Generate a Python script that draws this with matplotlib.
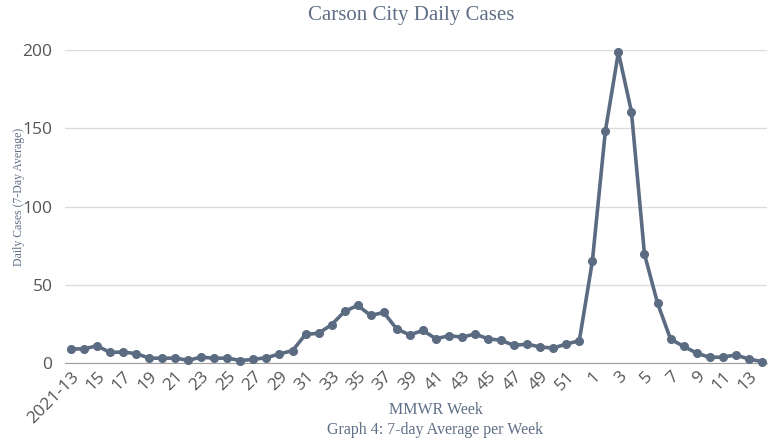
import matplotlib
matplotlib.use("Agg")
import matplotlib.pyplot as plt

weeks_2021 = list(range(13, 53))
weeks_2022 = list(range(1, 15))
week_labels = ["2021-13"] + [str(w) for w in weeks_2021[1:]] + [str(w) for w in weeks_2022]

cases = [9.0, 9.0, 11.0, 6.8, 7.0, 6.0, 3.2, 3.0, 3.2, 1.7,
         3.8, 3.0, 3.2, 1.6, 2.3, 3.4, 5.8, 7.9, 18.3, 19.0,
         24.5, 33.0, 36.8, 30.4, 32.3, 21.7, 18.0, 20.8, 15.5, 17.4,
         16.6, 18.5, 15.5, 14.5, 11.2, 12.1, 10.2, 9.6, 12.1, 14.2,
         64.9, 148.3, 198.5, 160.6, 69.6, 38.3, 15.3, 10.6, 6.4, 3.6,
         3.8, 5.1, 2.6, 0.9]

y_ticks = [0, 50, 100, 150, 200]

line_color = "#5b6b82"
text_color = "#5f6f86"

fig = plt.figure(figsize=(7.75, 4.38), dpi=100)
ax = fig.add_axes([0.0839, 0.1712, 0.9058, 0.7146])

x = list(range(len(cases)))
ax.plot(x, cases, color=line_color, lw=2.6, marker="o", ms=5.5, clip_on=False, zorder=3)

ax.set_ylim(0, 200)
ax.set_xlim(-0.45, len(cases) - 0.6)
ax.set_yticks(y_ticks)
ax.set_yticklabels([str(v) for v in y_ticks], fontsize=12.5, color="#555555", family="Open Sans")
ax.grid(axis="y", color="#dcdcdc", lw=1)
ax.set_axisbelow(True)
for s in ["top", "right", "left"]:
    ax.spines[s].set_visible(False)
ax.spines["bottom"].set_color("#a0a0a0")
ax.tick_params(axis="both", length=0)
ax.tick_params(axis="y", pad=9)
ax.tick_params(axis="x", pad=4)

tick_pos = x[::2]
ax.set_xticks(tick_pos)
ax.set_xticklabels([week_labels[i] for i in tick_pos], rotation=45, ha="right",
                   rotation_mode="anchor", fontsize=12.5, color="#555555", family="Open Sans")

serif = "Liberation Serif"
fig.text(0.53, 0.965, "Carson City Daily Cases", ha="center", va="center",
         fontsize=15, color=text_color, family=serif)
fig.text(0.024, 0.55, "Daily Cases (7-Day Average)", rotation=90, ha="center", va="center",
         fontsize=8.5, color=text_color, family=serif)
fig.text(0.562, 0.063, "MMWR Week", ha="center", va="center", fontsize=11.5,
         color=text_color, family=serif)
fig.text(0.562, 0.018, "Graph 4: 7-day Average per Week", ha="center", va="center",
         fontsize=11.5, color=text_color, family=serif)

fig.savefig("out.png", dpi=100)
